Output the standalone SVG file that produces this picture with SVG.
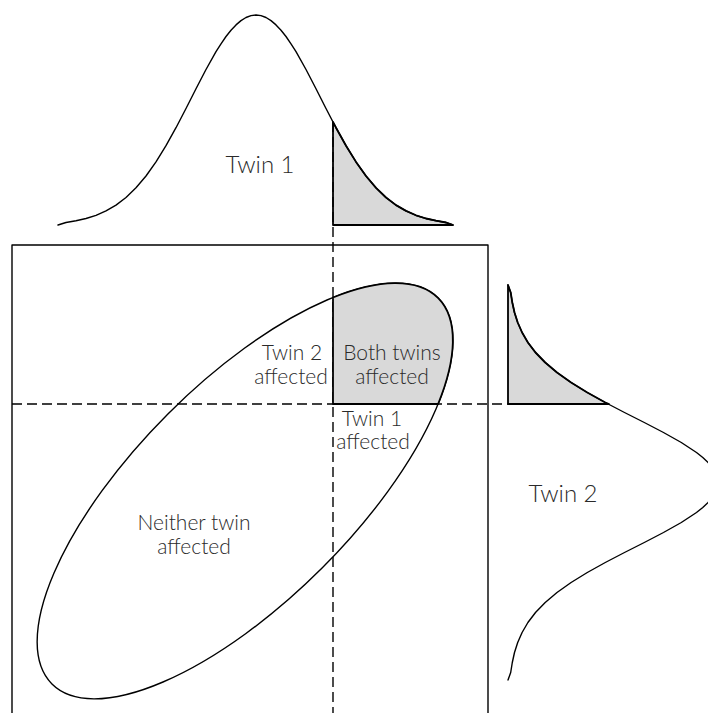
<svg xmlns="http://www.w3.org/2000/svg" width="708" height="713" viewBox="0 0 708 713">
<style>
.ln{fill:none;stroke:#000;stroke-width:1.4;stroke-linejoin:round;stroke-linecap:round}
.dash{fill:none;stroke:#000;stroke-width:1.4;stroke-dasharray:10 5}
.tail{fill:#d9d9d9;stroke:#000;stroke-width:1.8;stroke-linejoin:round}
.t{font-family:Lato,"Liberation Sans",sans-serif;font-weight:300;fill:#2a2a2a;text-anchor:middle}
.big{font-size:24px}
.sm{font-size:21px}
</style>
<rect width="708" height="713" fill="#fff"/>
<g id="twin1-curve">
<path class="tail" d="M333,225 L333,122 L336,127.7 L346,145.7 L356,161.9 L366,176 L376,187.8 L386,197.5 L396,205.1 L406,210.9 L416,215.3 L426,218.5 L436,220.7 L446,222.5 L453,225 Z"/>
<polyline class="ln" points="58,225 66,222.5 76,220.7 86,218.5 96,215.3 106,210.9 116,205.1 126,197.5 136,187.8 146,176 156,161.9 166,145.7 176,127.7 186,108.5 196,88.7 206,69.5 216,51.7 221,43.8 226,36.5 231,30.2 236,24.9 241,20.6 246,17.5 251,15.6 256,15 261,15.6 266,17.5 271,20.6 276,24.9 281,30.2 286,36.5 291,43.8 296,51.7 306,69.5 316,88.7 326,108.5 333,122 336,127.7 346,145.7 356,161.9 366,176 376,187.8 386,197.5 396,205.1 406,210.9 416,215.3 426,218.5 436,220.7 446,222.5 453,225"/>
<text class="t big" x="260" y="173">Twin 1</text>
</g>
<g id="twin2-curve">
<path class="tail" d="M508,404 L508,285 L510.7,292.5 L512.3,302.5 L514.5,312.5 L517.7,322.5 L522.1,332.5 L527.9,342.5 L535.5,352.5 L545.2,362.5 L557,372.5 L571.1,382.5 L587.3,392.5 L605.3,402.5 L609,404 Z"/>
<polyline class="ln" points="508,285 510.7,292.5 512.3,302.5 514.5,312.5 517.7,322.5 522.1,332.5 527.9,342.5 535.5,352.5 545.2,362.5 557,372.5 571.1,382.5 587.3,392.5 605.3,402.5 624.5,412.5 644.3,422.5 663.5,432.5 681.3,442.5 696.5,452.5 702.8,457.5 708.1,462.5 712.4,467.5 715.5,472.5 717.4,477.5 718,482.5 717.4,487.5 715.5,492.5 712.4,497.5 708.1,502.5 702.8,507.5 696.5,512.5 681.3,522.5 663.5,532.5 644.3,542.5 624.5,552.5 605.3,562.5 587.3,572.5 571.1,582.5 557,592.5 545.2,602.5 535.5,612.5 527.9,622.5 522.1,632.5 517.7,642.5 514.5,652.5 512.3,662.5 510.7,672.5 508,680"/>
<text class="t big" x="563" y="502">Twin 2</text>
</g>
<g id="joint-distribution">
<rect class="ln" x="12" y="245" width="476" height="480"/>
<ellipse class="ln" cx="245" cy="491" rx="273" ry="109" transform="rotate(-45 245 491)"/>
</g>
<g id="connectors">
<line class="dash" x1="333" y1="122" x2="333" y2="713"/>
<line class="dash" x1="12" y1="404" x2="508" y2="404"/>
</g>
<g id="both-affected">
<path class="tail" d="M333,404 L333,297.5 A273 109 -45 0 1 438.1,404 Z"/>
<text class="t sm" x="392" y="360">Both twins</text>
<text class="t sm" x="392" y="384">affected</text>
</g>
<g id="twin2-affected">
<text class="t sm" x="292" y="360">Twin 2</text>
<text class="t sm" x="291" y="384">affected</text>
</g>
<g id="twin1-affected">
<text class="t sm" x="372" y="426">Twin 1</text>
<text class="t sm" x="373" y="449">affected</text>
</g>
<g id="neither-affected">
<text class="t sm" x="194" y="530">Neither twin</text>
<text class="t sm" x="194" y="554">affected</text>
</g>
</svg>
